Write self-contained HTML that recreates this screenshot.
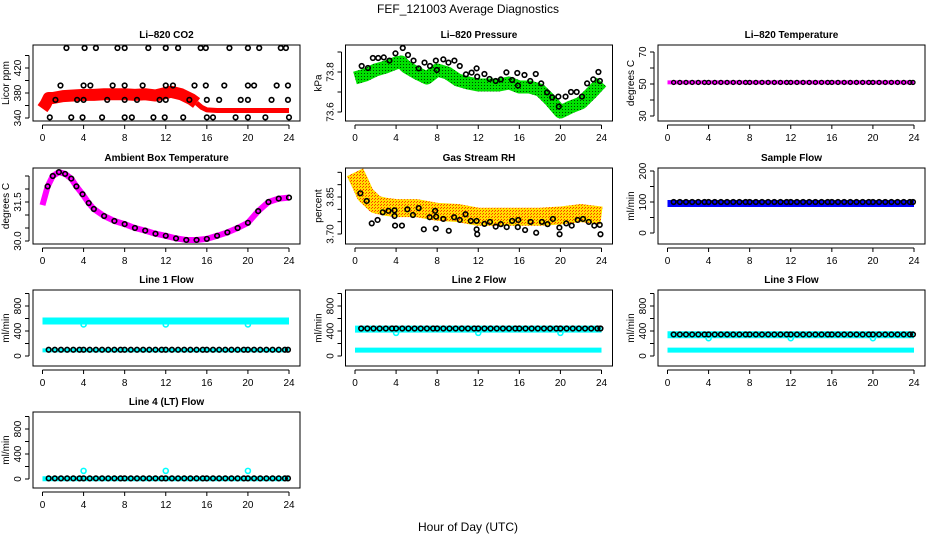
<!DOCTYPE html>
<html><head><meta charset="utf-8"><style>
html,body{margin:0;padding:0;background:#fff;}
svg{display:block;font-family:"Liberation Sans",sans-serif;}
.tk{font-size:10px;fill:#000;}
.ttl{font-size:10px;font-weight:bold;fill:#000;}
</style></head><body>
<svg id="chart" width="936" height="540" viewBox="0 0 936 540" xmlns="http://www.w3.org/2000/svg">
<defs>
<pattern id="patGreen" width="3" height="3" patternUnits="userSpaceOnUse"><rect width="3" height="3" fill="#00e000"/><rect x="1" y="1" width="1" height="1" fill="#004400"/></pattern>
<pattern id="patRH" width="3" height="3" patternUnits="userSpaceOnUse"><rect width="3" height="3" fill="#ffe000"/><rect x="0" y="0" width="1" height="1" fill="#ff3000"/><rect x="2" y="1" width="1" height="1" fill="#ff5000"/></pattern>
</defs>
<text x="468" y="13" text-anchor="middle" font-size="12">FEF_121003  Average Diagnostics</text>
<text x="468" y="531" text-anchor="middle" font-size="12">Hour of Day (UTC)</text>
</svg>
<script>
// ---------- data ----------
const xTickLabels = [0,4,8,12,16,20,24];
const blackHours = [0.6,1.2,1.8,2.4,3.0,3.6,4.0,4.6,5.2,5.8,6.4,7.0,7.6,8.0,8.6,9.2,9.8,10.4,11.0,11.6,12.0,12.6,13.2,13.8,14.4,15.0,15.6,16.0,16.6,17.2,17.8,18.4,19.0,19.6,20.0,20.6,21.2,21.8,22.4,23.0,23.6,23.9];

const co2BandHours = [0,0.3,0.6,1,2,3,4,5,6,7,8,9,10,11,12,12.5,13,13.5,14,14.5,15];
const co2BandValues = [355,362,372,372,375,376,377,377,378,378,378,377,378,376,380,382,380,378,374,370,364];
const co2FlatHours = [15,15.5,16,17,18,19,20,21,22,23,24];
const co2FlatValues = [364,357,353,352,352,352,352,352,352,352,352];
const co2PtHours = [2.33,4.1,5.2,7.3,8,10.3,12,13.2,15.4,15.9,18.2,20,21.1,23.2,23.7, 1.75,4.0,4.66,6.83,8,9.75,12,12.7,14.8,15.9,17.7,20,20.6,22.8,23.9, 1.26,3.37,4.0,6.3,8.0,9.2,11.4,12,14.3,16,17.2,19.3,20,22.3,23.9, 0.71,2.8,3.9,5.8,8,8.7,10.8,11.9,13.7,16,16.6,18.8,20,21.7,24];
const co2PtValues = [452,452,452,452,452,452,452,452,452,452,452,452,452,452,452, 392,392,392,392,392,392,392,392,392,392,392,392,392,392,392, 369,369,369,369,369,369,369,369,369,369,369,369,369,369,369, 341,341,341,341,341,341,341,341,341,341,341,341,341,341,341];

const presBandHours = [0,1,2,3,4,4.5,5,6,7,8,9,10,11,12,13,14,15,16,17,18,19,20,21,22,23,24];
const presBandValues = [73.77,73.785,73.81,73.825,73.845,73.85,73.825,73.795,73.77,73.81,73.795,73.76,73.745,73.735,73.735,73.735,73.745,73.725,73.725,73.71,73.66,73.6,73.625,73.645,73.695,73.75];
const presPtHours = [0.65,1.26,1.74,2.26,2.8,3.35,3.94,4.65,5.16,5.7,6.2,6.77,7.3,7.87,7.97,8.6,9.1,9.68,10.2,10.8,11.35,11.84,11.9,12.6,13.1,13.7,14.2,14.74,15.3,15.8,15.87,16.5,17.06,17.6,18.13,18.7,19.2,19.8,19.84,20.5,21.03,21.58,22.1,22.6,23.2,23.7,23.84];
const presPtValues = [73.83,73.82,73.87,73.87,73.873,73.857,73.893,73.92,73.885,73.857,73.818,73.847,73.83,73.857,73.81,73.863,73.847,73.857,73.83,73.788,73.797,73.818,73.777,73.79,73.765,73.755,73.763,73.798,73.76,73.795,73.732,73.785,73.755,73.79,73.743,73.698,73.673,73.677,73.627,73.677,73.70,73.70,73.677,73.743,73.763,73.80,73.755];

const tempBandHours = [0,24];
const tempBandValues = [51,51];
const tempPtValues = [51,51,51,51,51,51,51,51,51,51,51,51,51,51,51,51,51,51,51,51,51,51,51,51,51,51,51,51,51,51,51,51,51,51,51,51,51,51,51,51,51,51];

const ambHours = [0,0.5,1,1.6,2.2,2.8,3.3,3.9,4.5,5,6,7,8,9,10,11,12,13,14,15,16,17,18,19,20,21,22,23,24];
const ambValues = [31.38,32.1,32.5,32.65,32.58,32.4,32.1,31.8,31.46,31.23,30.96,30.77,30.65,30.5,30.4,30.28,30.2,30.1,30.04,30.04,30.08,30.2,30.33,30.5,30.7,31.15,31.5,31.63,31.67];

const rhBandHours = [0,0.5,1,2,3,4,6,8,10,12,14,16,18,20,22,24];
const rhBandValues = [3.95,3.907,3.86,3.82,3.81,3.805,3.805,3.79,3.785,3.77,3.77,3.77,3.77,3.775,3.785,3.775];
const rhPtHours = [0.52,1.14,1.63,2.2,2.7,3.26,3.85,3.85,3.9,4.57,5.1,5.64,6.2,6.7,7.27,7.8,7.86,7.9,8.6,9.13,9.65,10.2,10.76,11.28,11.84,11.84,11.9,12.6,13.14,13.7,14.2,14.77,15.3,15.85,15.9,16.56,17.1,17.64,18.2,18.75,19.27,19.9,19.92,20.57,21.1,21.68,22.2,22.76,23.3,23.83,23.9];
const rhPtValues = [3.865,3.834,3.743,3.757,3.788,3.794,3.796,3.773,3.734,3.734,3.80,3.777,3.805,3.719,3.768,3.794,3.722,3.77,3.761,3.713,3.768,3.757,3.78,3.753,3.753,3.719,3.699,3.741,3.749,3.73,3.74,3.728,3.753,3.728,3.757,3.716,3.749,3.705,3.749,3.74,3.761,3.726,3.699,3.743,3.734,3.757,3.761,3.749,3.734,3.737,3.699];

const sampleBandHours = [0,24];
const sampleBandValues = [95,95];
const samplePtValues = [100,100,100,100,100,100,100,100,100,100,100,100,100,100,100,100,100,100,100,100,100,100,100,100,100,100,100,100,100,100,100,100,100,100,100,100,100,100,100,100,100,100];

const dipHours = [4,12,20];
const line1High = [560,560]; const line1Low = [90,90]; const line1Dip = [505,505,505];
const line1PtValues = [100,100,100,100,100,100,100,100,100,100,100,100,100,100,100,100,100,100,100,100,100,100,100,100,100,100,100,100,100,100,100,100,100,100,100,100,100,100,100,100,100,100];
const line2High = [430,430]; const line2Low = [95,95]; const line2Dip = [370,370,370];
const line2PtValues = [440,440,440,440,440,440,440,440,440,440,440,440,440,440,440,440,440,440,440,440,440,440,440,440,440,440,440,440,440,440,440,440,440,440,440,440,440,440,440,440,440,440];
const line3High = [340,340]; const line3Low = [95,95]; const line3Dip = [285,285,285];
const line3PtValues = [345,345,345,345,345,345,345,345,345,345,345,345,345,345,345,345,345,345,345,345,345,345,345,345,345,345,345,345,345,345,345,345,345,345,345,345,345,345,345,345,345,345];
const line4High = [5,5]; const line4Spike = [130,130,130];
const line4PtValues = [10,10,10,10,10,10,10,10,10,10,10,10,10,10,10,10,10,10,10,10,10,10,10,10,10,10,10,10,10,10,10,10,10,10,10,10,10,10,10,10,10,10];
const fullHours = [0,24];

// ---------- drawing ----------
const svg = document.getElementById('chart');
const NS = 'http://www.w3.org/2000/svg';
function mk(tag, attrs, parent){ const e=document.createElementNS(NS,tag); for(const k in attrs) e.setAttribute(k,attrs[k]); (parent||svg).appendChild(e); return e; }

function panel(name, title, ylab, col, row, refA, refB, ticks, labels){
  const L = 33 + col*312.5, T = [45,168,290,412][row], W = 267, H = 76;
  const g = mk('g', {});
  
  
  const x = t => L + 9.5 + t*(246.5/24);
  const y = v => T + refA[1] + (v-refA[0])*(refB[1]-refA[1])/(refB[0]-refA[0]);
  const clip = mk('clipPath',{id:'clip-'+name}, g);
  mk('rect',{x:L,y:T,width:W,height:H}, clip);
  const plot = mk('g',{'clip-path':'url(#clip-'+name+')'}, g);
  
  
  const box = mk('rect',{x:L,y:T,width:W,height:H,fill:'none',stroke:'#000','stroke-width':1}, g);
  
  
  const t = mk('text',{x:L+W/2,y:T-7,'text-anchor':'middle',class:'ttl'}, g);
  t.textContent = title;
  
  
  const xa = mk('g',{}, g);
  
  
  mk('line',{x1:x(0),x2:x(24),y1:T+H+4,y2:T+H+4,stroke:'#000'}, xa);
  xTickLabels.forEach(v=>{
    mk('line',{x1:x(v),x2:x(v),y1:T+H+4,y2:T+H+8,stroke:'#000'}, xa);
    const tl = mk('text',{x:x(v),y:T+H+20,'text-anchor':'middle',class:'tk'}, xa);
    tl.textContent = v;
    
    
  });
  const ya = mk('g',{}, g);
  
  
  mk('line',{x1:L-4,x2:L-4,y1:y(ticks[0]),y2:y(ticks[ticks.length-1]),stroke:'#000'}, ya);
  ticks.forEach(v=>{ mk('line',{x1:L-8,x2:L-4,y1:y(v),y2:y(v),stroke:'#000'}, ya); });
  labels.forEach(v=>{
    const ty = y(parseFloat(v));
    const tl = mk('text',{x:L-12,y:ty,'text-anchor':'middle',class:'tk',transform:'rotate(-90 '+(L-12)+' '+ty+')'}, ya);
    tl.textContent = v;
    
    
  });
  const yl = mk('text',{x:L-24,y:T+H/2,'text-anchor':'middle',class:'tk',transform:'rotate(-90 '+(L-24)+' '+(T+H/2)+')'}, g);
  yl.textContent = ylab;
  
  
  return {
    band(hours, vals, color, width, nm){
      const p = mk('polyline',{points:hours.map((h,i)=>x(h)+','+y(vals[i])).join(' '),fill:'none',stroke:color,'stroke-width':width,'stroke-linejoin':'round','stroke-linecap':'butt'}, plot);
      
      
    },
    pts(hours, vals, color, r, sw, nm){
      const pg = mk('g',{}, plot);
      
      
      hours.forEach((h,i)=>{
        const c = mk('circle',{cx:x(h),cy:y(vals[i]),r:r,fill:'none',stroke:color,'stroke-width':sw}, pg);
        
        
      });
    }
  };
}

let p;
p = panel('co2-panel','Li\u2013820 CO2','Licor ppm',0,0,[340,73],[420,23],[340,360,380,400,420,440],['340','380','420']);
p.band(co2BandHours, co2BandValues, '#ff0000', 12, 'co2-band');
p.band(co2FlatHours, co2FlatValues, '#ff0000', 5, 'co2-flat-band');
p.pts(co2PtHours, co2PtValues, '#000', 2.3, 1.6, 'co2-points');

p = panel('pressure-panel','Li\u2013820 Pressure','kPa',1,0,[73.6,67],[73.8,27],[73.6,73.7,73.8,73.9],['73.6','73.8']);
p.band(presBandHours, presBandValues, 'url(#patGreen)', 13, 'pressure-band');
p.pts(presPtHours, presPtValues, '#000', 2.3, 1.6, 'pressure-points');

p = panel('temperature-panel','Li\u2013820 Temperature','degrees C',2,0,[30,71],[70,7],[30,40,50,60,70],['30','50','70']);
p.band(tempBandHours, tempBandValues, '#ff00ff', 4, 'temperature-band');
p.pts(blackHours, tempPtValues, '#000', 2, 1.4, 'temperature-points');

p = panel('ambient-panel','Ambient Box Temperature','degrees C',0,1,[30,73],[31.5,34],[30,30.5,31,31.5,32,32.5],['30.0','31.5']);
p.band(ambHours, ambValues, '#ff00ff', 6, 'ambient-band');
p.pts(ambHours.slice(1), ambValues.slice(1), '#000', 2.3, 1.6, 'ambient-points');

p = panel('rh-panel','Gas Stream RH','percent',1,1,[3.70,66],[3.85,29],[3.70,3.75,3.80,3.85,3.90,3.95],['3.70','3.85']);
p.band(rhBandHours, rhBandValues, 'url(#patRH)', 18, 'rh-band');
p.pts(rhPtHours, rhPtValues, '#000', 2.3, 1.6, 'rh-points');

p = panel('sample-flow-panel','Sample Flow','ml/min',2,1,[0,65],[200,3],[0,50,100,150,200],['0','100','200']);
p.band(sampleBandHours, sampleBandValues, '#0000ff', 7, 'sample-flow-band');
p.pts(blackHours, samplePtValues, '#000', 2.3, 1.6, 'sample-flow-points');

const flowTicks=[0,200,400,600,800,1000], flowLabels=['0','400','800'];
p = panel('line1-panel','Line 1 Flow','ml/min',0,2,[0,66],[800,16],flowTicks,flowLabels);
p.band(fullHours, line1High, '#00ffff', 7, 'line1-high-band');
p.band(fullHours, line1Low, '#00ffff', 4, 'line1-low-band');
p.pts(dipHours, line1Dip, '#00ffff', 2.5, 1.6, 'line1-dips');
p.pts(blackHours, line1PtValues, '#000', 2.3, 1.6, 'line1-points');

p = panel('line2-panel','Line 2 Flow','ml/min',1,2,[0,66],[800,16],flowTicks,flowLabels);
p.band(fullHours, line2High, '#00ffff', 7, 'line2-high-band');
p.band(fullHours, line2Low, '#00ffff', 5, 'line2-low-band');
p.pts(dipHours, line2Dip, '#00ffff', 2.5, 1.6, 'line2-dips');
p.pts(blackHours, line2PtValues, '#000', 2.3, 1.6, 'line2-points');

p = panel('line3-panel','Line 3 Flow','ml/min',2,2,[0,66],[800,16],flowTicks,flowLabels);
p.band(fullHours, line3High, '#00ffff', 7, 'line3-high-band');
p.band(fullHours, line3Low, '#00ffff', 5, 'line3-low-band');
p.pts(dipHours, line3Dip, '#00ffff', 2.5, 1.6, 'line3-dips');
p.pts(blackHours, line3PtValues, '#000', 2.3, 1.6, 'line3-points');

p = panel('line4-panel','Line 4 (LT) Flow','ml/min',0,3,[0,67],[800,17],flowTicks,flowLabels);
p.band(fullHours, line4High, '#00ffff', 5, 'line4-band');
p.pts(dipHours, line4Spike, '#00ffff', 2.5, 1.6, 'line4-spikes');
p.pts(blackHours, line4PtValues, '#000', 2.3, 1.6, 'line4-points');
</script>
</body></html>
